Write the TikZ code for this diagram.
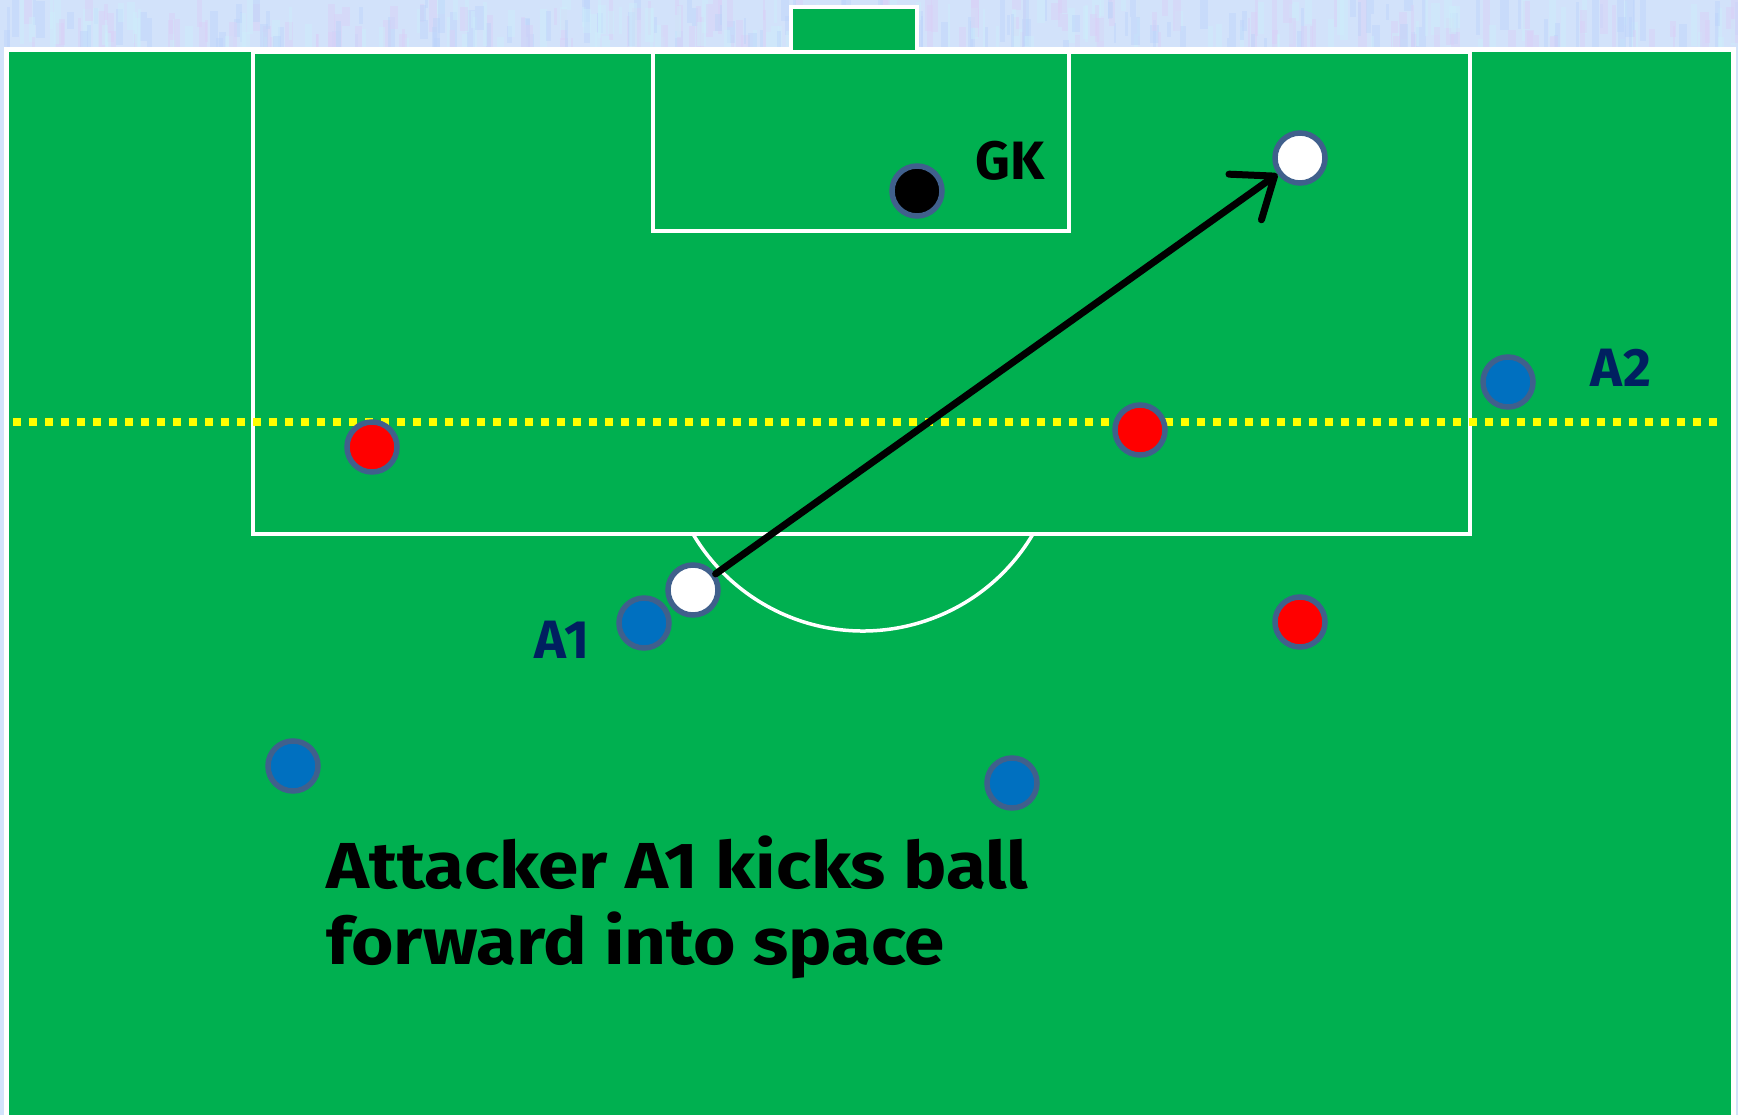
\documentclass[tikz,border=0pt]{standalone}
\usepackage{fontspec}
\setmainfont{Fira Sans}
\usetikzlibrary{arrows.meta}
\definecolor{pitchgreen}{HTML}{00B050}
\definecolor{skyback}{RGB}{210,226,250}
\definecolor{streakA}{RGB}{188,212,250}
\definecolor{streakB}{RGB}{218,208,246}
\definecolor{streakC}{RGB}{205,238,250}
\definecolor{ringcol}{RGB}{64,96,140}
\definecolor{bluep}{HTML}{0070C0}
\definecolor{navy}{HTML}{002060}
\definecolor{dotyellow}{HTML}{FFFF00}
\tikzset{
  pline/.style={draw=white, line width=3.5pt},
  player/.style={circle, draw=ringcol, line width=5.5pt, minimum size=50pt, inner sep=0pt},
  bluepl/.style={player, fill=bluep},
  redpl/.style={player, fill=red},
  ballpl/.style={player, fill=white},
  keeper/.style={player, fill=black},
  lab/.style={font=\bfseries\fontsize{54}{60}\selectfont, inner sep=0pt},
  offside/.style={draw=dotyellow, line width=7.5pt, dash pattern=on 7.5pt off 8.5pt},
  kick/.style={draw=black, line width=7pt, line cap=round,
    -{Straight Barb[length=36pt, width=56pt, line cap=round, line join=round]}}
}
\begin{document}
\begin{tikzpicture}[x=1pt,y=-1pt]
\useasboundingbox (0,0) rectangle (1738,1115);
\fill[skyback] (0,0) rectangle (1738,1115);
% texture of the top band
\begin{scope}
\clip (0,0) rectangle (1738,50);
\pgfmathsetseed{7}
\foreach \i in {0,...,420}{
  \pgfmathsetmacro{\xx}{rnd*1738}
  \pgfmathsetmacro{\ww}{2+rnd*7}
  \pgfmathsetmacro{\yy}{-10+rnd*50}
  \pgfmathsetmacro{\hh}{15+rnd*35}
  \pgfmathtruncatemacro{\cc}{mod(\i,3)}
  \ifcase\cc \def\sc{streakA}\or \def\sc{streakB}\else \def\sc{streakC}\fi
  \fill[\sc, opacity=0.45] (\xx,\yy) rectangle ++(\ww,\hh);
}
\end{scope}
% pitch
\fill[pitchgreen] (5,50) rectangle (1735,1115);
\draw[pline, line width=5pt] (6,1115) -- (6,50) -- (1733,50) -- (1733,1115);
% goal
\filldraw[fill=pitchgreen, pline, line width=4.5pt] (791,50) -- (791,7) -- (917,7) -- (917,50);
% penalty box and goal area
\draw[pline] (253,52) rectangle (1470,534);
\draw[pline] (653,52) rectangle (1069,231);
% penalty arc
\draw[pline] (863,433.5) ++(30.6:197.5) arc[start angle=30.6, end angle=149.4, radius=197.5];
% offside line
\draw[offside] (13,422) -- (1720,422);
% players
\node[keeper] (gk) at (917,191) {};
\node[ballpl] (ball2) at (1300,158) {};
\node[bluepl] (a2) at (1508,382) {};
\node[redpl] (r1) at (372,447) {};
\node[redpl] (r2) at (1140,430) {};
\node[ballpl] (ball1) at (693,590) {};
\node[bluepl] (a1) at (644,623) {};
\node[redpl] (r3) at (1300,622) {};
\node[bluepl] (b1) at (293,766) {};
\node[bluepl] (b2) at (1012,783) {};
% labels
\node[lab, text=black] (gklab) at (1010,161) {GK};
\node[lab, text=navy] (a2lab) at (1621,368) {A2};
\node[lab, text=navy] (a1lab) at (562,640) {A1};
% kick arrow
\draw[kick] (ball1) -- (ball2);
% caption
\node[font=\bfseries\fontsize{65}{75}\selectfont, anchor=north west, inner sep=0pt] (caption) at (326,836)
  {\scalebox{1.12}[1]{\begin{tabular}{@{}l@{}}Attacker A1 kicks ball\\forward into space\end{tabular}}};
\end{tikzpicture}
\end{document}
